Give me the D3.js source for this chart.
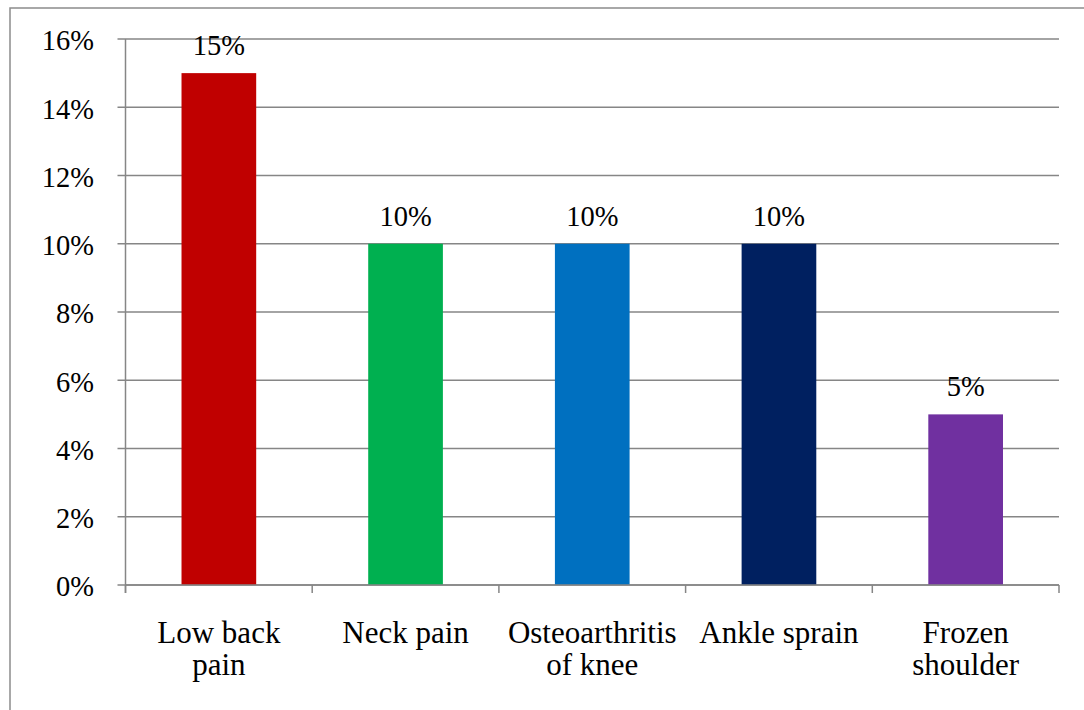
<!DOCTYPE html>
<html>
<head>
<meta charset="utf-8">
<script src="https://cdn.jsdelivr.net/npm/d3@7"></script>
<style>
  html, body { margin: 0; padding: 0; background: #fff; }
  svg { display: block; }
</style>
</head>
<body>
<svg id="chart" width="1084" height="710"></svg>
<script>
const categories = [["Low back", "pain"], ["Neck pain"], ["Osteoarthritis", "of knee"], ["Ankle sprain"], ["Frozen", "shoulder"]];
const values = [15, 10, 10, 10, 5];
const valueLabels = ["15%", "10%", "10%", "10%", "5%"];
const colors = ["#C00000", "#00B050", "#0070C0", "#002060", "#7030A0"];
const yTicks = [0, 2, 4, 6, 8, 10, 12, 14, 16];
const yTickLabels = ["0%", "2%", "4%", "6%", "8%", "10%", "12%", "14%", "16%"];

(function () {
const svg = d3.select("#chart");
const FONT = "'Liberation Serif', 'Times New Roman', Tinos, 'DejaVu Serif', serif";
svg.attr("font-family", FONT);
const plotLeft = 125.5, plotRight = 1059, plotTop = 39, plotBottom = 585;
const gridColor = "#868686";
const numSize = 28.5;
const catSize = 31;

svg.append("rect")
  .attr("x", 10).attr("y", 8).attr("width", 1100).attr("height", 720)
  .attr("fill", "none").attr("stroke", "#8c8c8c").attr("stroke-width", 1.5);

const idx = categories.map((d, i) => i);
const x = d3.scaleBand().domain(idx).range([plotLeft, plotRight]).padding(0);
const y = d3.scaleLinear().domain([0, 16]).range([plotBottom, plotTop]);

const g = svg.append("g");
g.selectAll("line.grid").data(yTicks).join("line")
  .attr("x1", plotLeft - 8).attr("x2", plotRight)
  .attr("y1", d => y(d)).attr("y2", d => y(d))
  .attr("stroke", gridColor).attr("stroke-width", 1.5);

g.selectAll("text.ylab").data(yTicks).join("text")
  .attr("font-family", FONT)
  .attr("x", 94).attr("y", d => y(d)).attr("dy", "0.4em")
  .attr("text-anchor", "end").attr("font-size", numSize)
  .text((d, i) => yTickLabels[i]);

g.append("line").attr("x1", plotLeft).attr("x2", plotLeft).attr("y1", plotTop).attr("y2", plotBottom + 8)
  .attr("stroke", gridColor).attr("stroke-width", 1.5);

const bounds = idx.map(i => x(i)).concat([x(idx[idx.length - 1]) + x.bandwidth()]);
g.selectAll("line.xt").data(bounds).join("line")
  .attr("x1", d => d).attr("x2", d => d).attr("y1", plotBottom).attr("y2", plotBottom + 8)
  .attr("stroke", gridColor).attr("stroke-width", 1.5);

const bw = x.bandwidth() * 0.4;
svg.selectAll("rect.bar").data(idx).join("rect")
  .attr("x", i => x(i) + (x.bandwidth() - bw) / 2)
  .attr("width", bw)
  .attr("y", i => y(values[i]))
  .attr("height", i => y(0) - y(values[i]))
  .attr("fill", i => colors[i]);

svg.append("line").attr("x1", plotLeft).attr("x2", plotRight).attr("y1", plotBottom).attr("y2", plotBottom)
  .attr("stroke", gridColor).attr("stroke-width", 1.5);

svg.selectAll("text.val").data(idx).join("text")
  .attr("font-family", FONT)
  .attr("x", i => x(i) + x.bandwidth() / 2)
  .attr("y", i => y(values[i]) - 18)
  .attr("text-anchor", "middle").attr("font-size", numSize)
  .text(i => valueLabels[i]);

const cl = svg.selectAll("text.cat").data(idx).join("text")
  .attr("font-family", FONT)
  .attr("text-anchor", "middle").attr("font-size", catSize);
cl.each(function(i) {
  const t = d3.select(this);
  categories[i].forEach((line, k) => {
    t.append("tspan").attr("x", x(i) + x.bandwidth() / 2).attr("y", plotBottom + 58 + k * 32).text(line);
  });
});
})();
</script>
</body>
</html>
